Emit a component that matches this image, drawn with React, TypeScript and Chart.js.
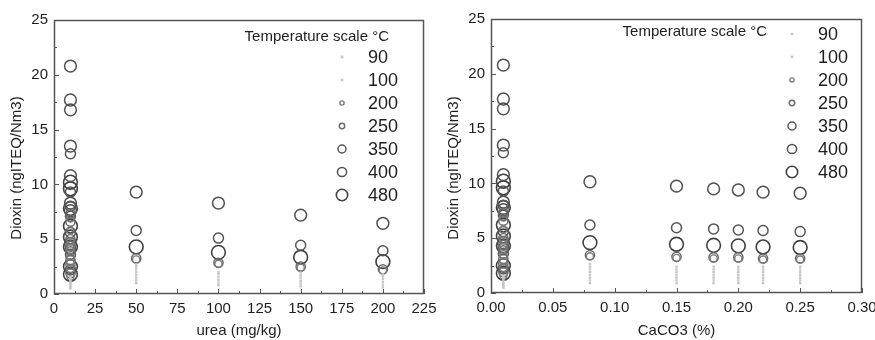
import React, { useEffect, useRef } from 'react';
import { Chart, registerables } from 'chart.js';

Chart.register(...registerables);

// ---------- data ----------
const temps = ['90', '100', '200', '250', '350', '400', '480'];

// baseline runs (no additive): shown at urea = 10 and CaCO3 = 0.01
const baseUrea = 10;
const baseCaCO3 = 0.01;
const base90 = [0.5, 0.8, 1.1, 1.4];
const base100 = [0.65, 0.95, 1.25, 1.55];
const base200 = [6.9, 5.8, 4.8, 4.2, 3.4, 2.9, 2.3, 1.6];
const base250 = [7.3, 6.6, 5.0, 4.4, 3.9, 3.1, 2.7, 1.9];
const base350 = [12.8, 9.3, 8.0, 7.1, 5.6, 4.1, 3.6, 2.2];
const base400 = [20.8, 17.7, 16.8, 13.5, 10.8, 8.3, 7.6, 4.6];
const base480 = [10.2, 9.6, 7.8, 6.2, 5.2, 4.3, 2.5, 1.8];

// urea panel
const ureaLevels = [50, 100, 150, 200];
const urea90 = [[1.0, 1.5, 2.0, 2.5], [0.8, 1.3, 1.8], [0.7, 1.2, 1.7], [0.6, 1.1, 1.6]];
const urea100 = [[1.25, 1.75, 2.25, 2.7], [1.05, 1.55, 2.0], [0.95, 1.45, 1.95], [0.85, 1.35, 1.8]];
const urea200 = [3.15, 2.75, 2.4, 2.15];
const urea250 = [3.25, 2.85, 2.5, 2.25];
const urea350 = [5.8, 5.1, 4.45, 3.95];
const urea400 = [9.3, 8.3, 7.2, 6.45];
const urea480 = [4.3, 3.8, 3.35, 2.95];

// CaCO3 panel
const caLevels = [0.08, 0.15, 0.18, 0.2, 0.22, 0.25];
const ca90 = [[0.9, 1.4, 1.9, 2.4], [0.9, 1.4, 1.9], [0.9, 1.4, 1.9], [0.9, 1.4, 1.9], [0.9, 1.4, 1.9], [0.9, 1.4, 1.9]];
const ca100 = [[1.15, 1.65, 2.15, 2.65], [1.15, 1.65, 2.15, 2.4], [1.15, 1.65, 2.15, 2.4], [1.15, 1.65, 2.15, 2.4], [1.15, 1.65, 2.15, 2.4], [1.15, 1.65, 2.15, 2.4]];
const ca200 = [3.35, 3.2, 3.15, 3.15, 3.05, 3.05];
const ca250 = [3.45, 3.3, 3.25, 3.25, 3.15, 3.15];
const ca350 = [6.2, 5.95, 5.85, 5.75, 5.7, 5.6];
const ca400 = [10.15, 9.75, 9.5, 9.4, 9.2, 9.1];
const ca480 = [4.6, 4.45, 4.35, 4.3, 4.2, 4.15];

// ---------- styles ----------
const FONT = '"Liberation Sans", Arial, Helvetica, sans-serif';
const TEXT = '#1e1e1e';
const styleFor: Record<string, any> = {
  '90': { pointStyle: 'rect', radius: 1.7, border: '#c4c4c4', fill: '#c4c4c4', bw: 0, lr: 1.3 },
  '100': { pointStyle: 'rect', radius: 1.7, border: '#c8c8c8', fill: '#c8c8c8', bw: 0, lr: 1.3 },
  '200': { pointStyle: 'circle', radius: 3.6, border: '#7a7a7a', fill: 'rgba(0,0,0,0)', bw: 1.4, lr: 2.1 },
  '250': { pointStyle: 'circle', radius: 4.6, border: '#6a6a6a', fill: 'rgba(0,0,0,0)', bw: 1.5, lr: 2.7 },
  '350': { pointStyle: 'circle', radius: 5.0, border: '#555555', fill: 'rgba(0,0,0,0)', bw: 1.5, lr: 4.0 },
  '400': { pointStyle: 'circle', radius: 5.9, border: '#505050', fill: 'rgba(0,0,0,0)', bw: 1.5, lr: 4.6 },
  '480': { pointStyle: 'circle', radius: 6.9, border: '#404040', fill: 'rgba(0,0,0,0)', bw: 1.6, lr: 5.7 },
};

function pts(x0: number, base: number[], levels: number[], vals: (number | number[])[]) {
  const out: { x: number; y: number }[] = base.map((y) => ({ x: x0, y }));
  levels.forEach((lv, i) => {
    const v = vals[i];
    if (Array.isArray(v)) v.forEach((y) => out.push({ x: lv, y }));
    else out.push({ x: lv, y: v });
  });
  return out;
}

function makeDatasets(x0: number, levels: number[], series: (number | number[])[][]) {
  const bases = [base90, base100, base200, base250, base350, base400, base480];
  return temps.map((t, i) => {
    const s = styleFor[t];
    return {
      label: t,
      data: pts(x0, bases[i], levels, series[i]),
      pointStyle: s.pointStyle,
      pointRadius: s.radius,
      pointBorderColor: s.border,
      pointBackgroundColor: s.fill,
      pointBorderWidth: s.bw,
      legendRadius: s.lr,
      showLine: false,
    };
  });
}

// ---------- plugins ----------
const frameTicks = {
  id: 'frameTicks',
  afterDraw(chart: any, _a: any, opts: any) {
    const { ctx, chartArea: ca, scales } = chart;
    ctx.save();
    ctx.strokeStyle = '#555';
    ctx.lineWidth = 1.5;
    ctx.strokeRect(ca.left + 0.5, ca.top + 0.5, ca.right - ca.left - 1, ca.bottom - ca.top - 1);
    ctx.lineWidth = 1;
    const xs = scales.x;
    const xv = xs.ticks.map((t: any) => t.value);
    xv.forEach((v: number, i: number) => {
      const px = Math.round(xs.getPixelForValue(v)) + 0.5;
      ctx.beginPath(); ctx.moveTo(px, ca.bottom); ctx.lineTo(px, ca.bottom - 5); ctx.stroke();
      if (i < xv.length - 1) {
        const mx = Math.round(xs.getPixelForValue((v + xv[i + 1]) / 2)) + 0.5;
        ctx.beginPath(); ctx.moveTo(mx, ca.bottom); ctx.lineTo(mx, ca.bottom - 3); ctx.stroke();
      }
    });
    const ys = scales.y;
    const yv = ys.ticks.map((t: any) => t.value);
    yv.forEach((v: number, i: number) => {
      const py = Math.round(ys.getPixelForValue(v)) + 0.5;
      ctx.beginPath(); ctx.moveTo(ca.left, py); ctx.lineTo(ca.left + 5, py); ctx.stroke();
      if (i < yv.length - 1) {
        const my = Math.round(ys.getPixelForValue((v + yv[i + 1]) / 2)) + 0.5;
        ctx.beginPath(); ctx.moveTo(ca.left, my); ctx.lineTo(ca.left + 3, my); ctx.stroke();
      }
    });
    // y-axis title, drawn by hand to sit slightly below the plot centre like the original
    ctx.translate(opts.yTitleX, ca.top + opts.yTitleDy);
    ctx.rotate(-Math.PI / 2);
    ctx.fillStyle = TEXT;
    ctx.font = `15px ${FONT}`;
    ctx.textAlign = 'center';
    ctx.textBaseline = 'middle';
    ctx.fillText('Dioxin (ngITEQ/Nm3)', 0, 0);
    ctx.restore();
  },
};

const tempLegend = {
  id: 'tempLegend',
  afterDatasetsDraw(chart: any, _args: any, opts: any) {
    const { ctx, chartArea: ca } = chart;
    ctx.save();
    ctx.fillStyle = TEXT;
    ctx.textBaseline = 'middle';
    ctx.font = `15px ${FONT}`;
    ctx.textAlign = 'right';
    ctx.fillText('Temperature scale °C', ca.right - opts.titleRight, ca.top + opts.titleY);
    ctx.font = `18px ${FONT}`;
    ctx.textAlign = 'left';
    chart.data.datasets.forEach((ds: any, i: number) => {
      const y = ca.top + opts.rowY + i * opts.rowStep;
      const x = ca.right - opts.markerRight;
      const r = ds.legendRadius;
      if (ds.pointStyle === 'rect') {
        ctx.fillStyle = ds.pointBackgroundColor;
        ctx.fillRect(x - r, y - r, 2 * r, 2 * r);
      } else {
        ctx.strokeStyle = ds.pointBorderColor;
        ctx.lineWidth = ds.pointBorderWidth;
        ctx.beginPath(); ctx.arc(x, y, r, 0, Math.PI * 2); ctx.stroke();
      }
      ctx.fillStyle = TEXT;
      ctx.fillText(ds.label, ca.right - opts.labelRight, y + 1);
    });
    ctx.restore();
  },
};

function makeConfig(p: {
  datasets: any[]; xMax: number; xStep: number; xTitle: string; fmt: (v: number) => string;
  padRight: number; padTop: number; xHeight: number; legend: any; frame: any;
}) {
  return {
    type: 'scatter',
    data: { datasets: p.datasets },
    plugins: [frameTicks, tempLegend],
    options: {
      animation: false,
      responsive: false,
      devicePixelRatio: 1,
      layout: { padding: { left: 0, right: p.padRight, top: p.padTop, bottom: 0 } },
      plugins: { legend: { display: false }, tooltip: { enabled: false }, tempLegend: p.legend, frameTicks: p.frame },
      scales: {
        x: {
          type: 'linear', min: 0, max: p.xMax,
          grid: { display: false, drawTicks: false }, border: { display: false },
          ticks: { stepSize: p.xStep, autoSkip: false, maxRotation: 0, padding: 6, color: TEXT,
            font: { size: 15, family: FONT }, callback: (v: any) => p.fmt(Number(v)) },
          title: { display: true, text: p.xTitle, color: TEXT, font: { size: 15, family: FONT }, padding: { top: 0, bottom: 0 } },
          afterFit: (s: any) => { s.height = p.xHeight; s.paddingLeft = 0; s.paddingRight = 0; },
        },
        y: {
          type: 'linear', min: 0, max: 25,
          grid: { display: false, drawTicks: false }, border: { display: false },
          ticks: { stepSize: 5, padding: 6, color: TEXT, font: { size: 15, family: FONT } },
          title: { display: false },
          afterFit: (s: any) => { s.width = 54; s.paddingTop = 0; s.paddingBottom = 0; },
        },
      },
    },
  };
}

function ChartCanvas({ left, width, config }: { left: number; width: number; config: () => any }) {
  const ref = useRef<HTMLCanvasElement>(null);
  useEffect(() => {
    if (!ref.current) return;
    const chart = new Chart(ref.current, config());
    return () => chart.destroy();
  }, []);
  return (
    <canvas ref={ref} width={width} height={340}
      style={{ position: 'absolute', left, top: 0, width, height: 340 }} />
  );
}

export default function App() {
  const ureaCfg = () => makeConfig({
    datasets: makeDatasets(baseUrea, ureaLevels, [urea90, urea100, urea200, urea250, urea350, urea400, urea480]),
    xMax: 225, xStep: 25, xTitle: 'urea (mg/kg)', fmt: (v) => String(Math.round(v)),
    padRight: 13, padTop: 20, xHeight: 46,
    legend: { titleRight: 35, titleY: 17, rowY: 37, rowStep: 23, markerRight: 82, labelRight: 56 },
    frame: { yTitleX: 17, yTitleDy: 148 },
  });
  const caCfg = () => makeConfig({
    datasets: makeDatasets(baseCaCO3, caLevels, [ca90, ca100, ca200, ca250, ca350, ca400, ca480]),
    xMax: 0.3, xStep: 0.05, xTitle: 'CaCO3 (%)', fmt: (v) => v.toFixed(2),
    padRight: 13, padTop: 19, xHeight: 47,
    legend: { titleRight: 95, titleY: 13, rowY: 15, rowStep: 23, markerRight: 70, labelRight: 44 },
    frame: { yTitleX: 17, yTitleDy: 149 },
  });
  return (
    <div style={{ position: 'fixed', left: 0, top: 0, width: 875, height: 340, background: '#fff', overflow: 'hidden' }}>
      <ChartCanvas left={0} width={437} config={ureaCfg} />
      <ChartCanvas left={437} width={438} config={caCfg} />
    </div>
  );
}
